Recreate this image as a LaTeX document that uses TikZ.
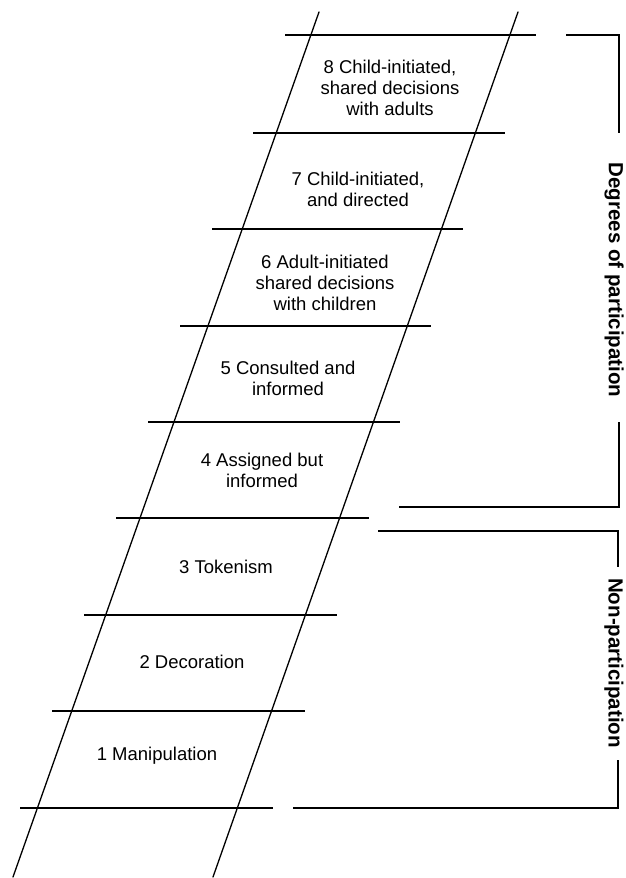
\documentclass[tikz,border=0pt]{standalone}
\usepackage{fontspec}
\setmainfont{Liberation Sans}
\begin{document}
\begin{tikzpicture}[x=1pt,y=-1pt,
  rail/.style={line width=1.3pt,line cap=round},
  rung/.style={line width=1.3pt},
  brk/.style={line width=1.3pt},
  lab/.style={align=center,inner sep=0pt,font=\fontsize{18.5}{21}\selectfont},
  cat/.style={rotate=-90,inner sep=0pt,font=\bfseries\fontsize{20.5}{24}\selectfont}]
\useasboundingbox (0,0) rectangle (625,878);
% rails
\coordinate (LT) at (319,12); \coordinate (LB) at (13,877);
\coordinate (RT) at (518,12); \coordinate (RB) at (213,877);
\draw[rail] (LT) -- (LB);
\draw[rail] (RT) -- (RB);
% rungs
\foreach \y/\a/\b [count=\i] in {808/20/273, 711/52/305, 615/84/337, 518/116/369, 422/148/400, 326/180/431, 229/212/463, 133/253/505, 35/285/536} {
  \coordinate (r\i a) at (\a,\y);
  \coordinate (r\i b) at (\b,\y);
  \draw[rung] (r\i a) -- (r\i b);
}
% labels
\node[lab] (l8) at (390,88) {8 Child-initiated,\\shared decisions\\with adults};
\node[lab] (l7) at (358,189) {7 Child-initiated,\\and directed};
\node[lab] (l6) at (325,283) {6 Adult-initiated\\shared decisions\\with children};
\node[lab] (l5) at (288,378) {5 Consulted and\\informed};
\node[lab] (l4) at (262,470) {4 Assigned but\\informed};
\node[lab] (l3) at (226,567) {3 Tokenism};
\node[lab] (l2) at (192,662) {2 Decoration};
\node[lab] (l1) at (157,756) {1 Manipulation};
% categories
\node[cat] (dp) at (614,280) {Degrees of participation};
\node[cat] (np) at (614,663) {Non-participation};
% brackets
\coordinate (d1) at (566,35); \coordinate (d2) at (619,35); \coordinate (d3) at (619,133);
\coordinate (d4) at (619,422); \coordinate (d5) at (619,507); \coordinate (d6) at (399,507);
\draw[brk] (d1) -- (d2) -- (d3);
\draw[brk] (d4) -- (d5) -- (d6);
\coordinate (n1) at (378,531); \coordinate (n2) at (618,531); \coordinate (n3) at (618,567);
\coordinate (n4) at (618,760); \coordinate (n5) at (618,808); \coordinate (n6) at (293,808);
\draw[brk] (n1) -- (n2) -- (n3);
\draw[brk] (n4) -- (n5) -- (n6);
\end{tikzpicture}
\end{document}
